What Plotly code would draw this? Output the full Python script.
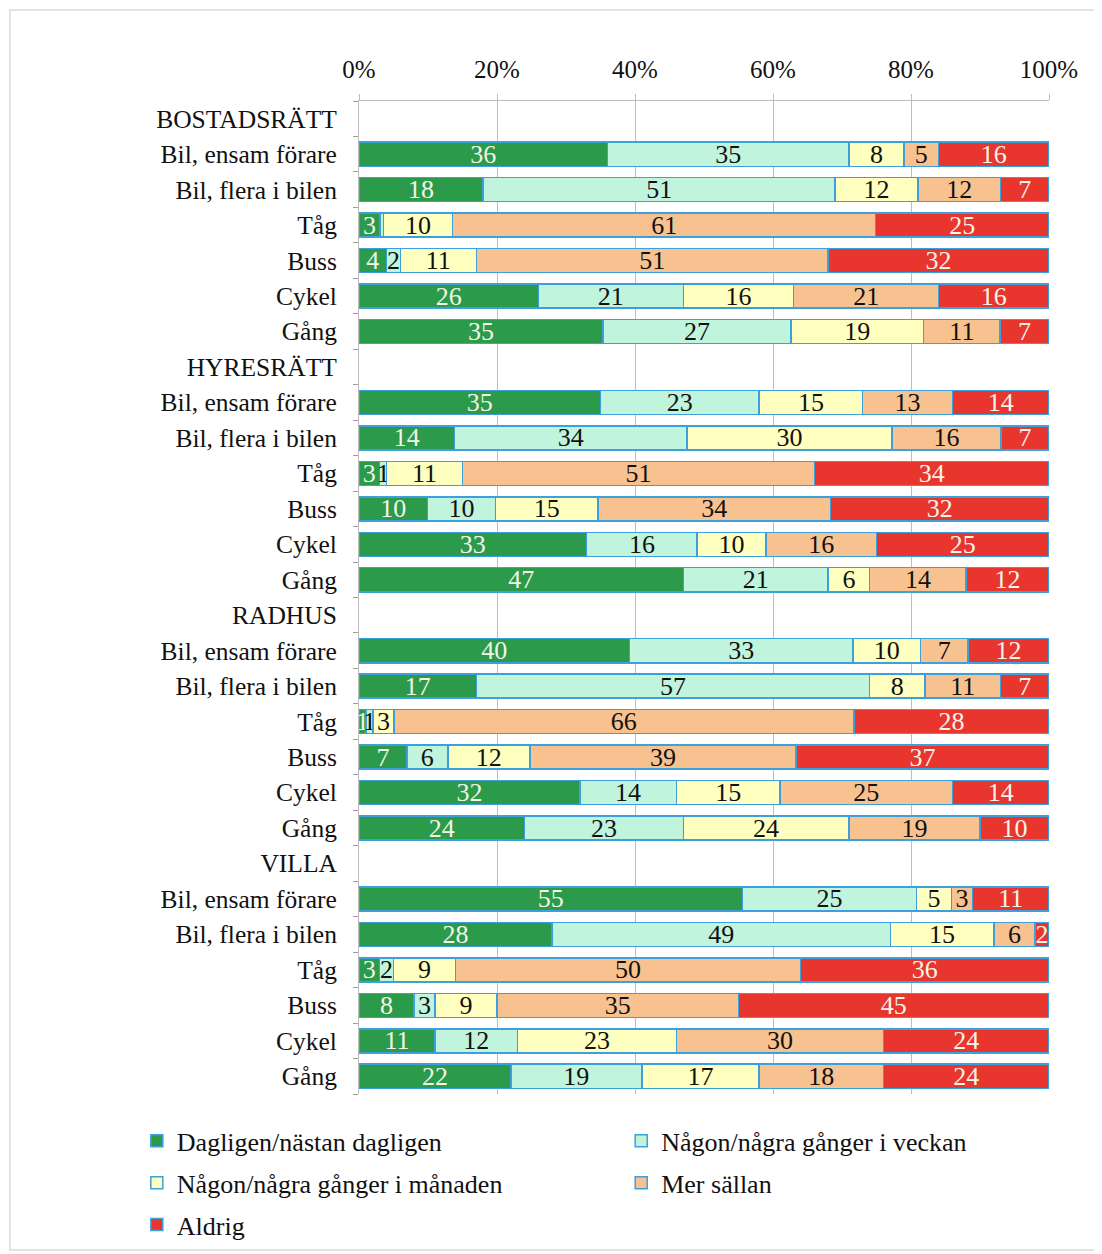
import plotly.graph_objects as go

groups = ["BOSTADSRÄTT", "HYRESRÄTT", "RADHUS", "VILLA"]
modes = ["Bil, ensam förare", "Bil, flera i bilen", "Tåg", "Buss", "Cykel", "Gång"]

series_names = ["Dagligen/nästan dagligen", "Någon/några gånger i veckan",
                "Någon/några gånger i månaden", "Mer sällan", "Aldrig"]

daily   = [36, 18, 3, 4, 26, 35,   35, 14, 3, 10, 33, 47,   40, 17, 1, 7, 32, 24,   55, 28, 3, 8, 11, 22]
weekly  = [35, 51, 0.5, 2, 21, 27, 23, 34, 1, 10, 16, 21,   33, 57, 1, 6, 14, 23,   25, 49, 2, 3, 12, 19]
monthly = [8, 12, 10, 11, 16, 19,  15, 30, 11, 15, 10, 6,   10, 8, 3, 12, 15, 24,   5, 15, 9, 9, 23, 17]
rarely  = [5, 12, 61, 51, 21, 11,  13, 16, 51, 34, 16, 14,  7, 11, 66, 39, 25, 19,  3, 6, 50, 35, 30, 18]
never   = [16, 7, 25, 32, 16, 7,   14, 7, 34, 32, 25, 12,   12, 7, 28, 37, 14, 10,  11, 2, 36, 45, 24, 24]

colors = ["#2B9A4A", "#C0F4DC", "#FFFFC0", "#F7C290", "#E8352E"]
text_colors = ["#F4F4E8", "#111111", "#111111", "#111111", "#F4F4E8"]
x_ticks = [0, 20, 40, 60, 80, 100]
x_ticktext = ["0%", "20%", "40%", "60%", "80%", "100%"]

FONT = "Liberation Serif, Times New Roman, serif"

# build row labels (group headers + modes) and bar positions
row_labels = []
bar_pos = []
for g in groups:
    row_labels.append(g)
    for m in modes:
        bar_pos.append(len(row_labels))
        row_labels.append(m)

fig = go.Figure()
all_series = [daily, weekly, monthly, rarely, never]
legend_ids = ["legend", "legend2", "legend", "legend2", "legend"]
for i, (name, vals, col, tcol, lg) in enumerate(zip(series_names, all_series, colors, text_colors, legend_ids)):
    fig.add_trace(go.Bar(
        name=name, x=vals, y=bar_pos, orientation="h",
        marker=dict(color=col, line=dict(color="#3D9FDC", width=1.5)),
        text=[(str(v) if v >= 1 else "") for v in vals],
        textposition="inside", insidetextanchor="middle", constraintext="none",
        textangle=0,
        textfont=dict(family=FONT, size=26, color=tcol),
        width=0.68, legend=lg, legendgroup=f"g{i}", hoverinfo="skip",
    ))

leg_common = dict(orientation="v", yanchor="top", xanchor="left", traceorder="grouped",
                  tracegroupgap=5, font=dict(family=FONT, size=26),
                  bgcolor="rgba(0,0,0,0)")

fig.update_layout(
    barmode="stack", barnorm="percent",
    width=1094, height=1246,
    margin=dict(l=351, r=53, t=93, b=160, autoexpand=False),
    paper_bgcolor="white", plot_bgcolor="white",
    font=dict(family=FONT, size=25, color="#111111"),
    xaxis=dict(side="top", range=[0, 100], tickvals=x_ticks, ticktext=x_ticktext,
               showgrid=True, gridcolor="#BDBDBD", gridwidth=1,
               showline=True, linecolor="#BDBDBD", ticks="outside", ticklen=6,
               tickcolor="#BDBDBD", zeroline=False, ticklabelstandoff=6,
               automargin=False, tickfont=dict(family=FONT, size=25)),
    yaxis=dict(range=[len(row_labels) - 0.5, -0.5],
               tickvals=list(range(len(row_labels))), ticktext=row_labels,
               ticks="", showgrid=False, zeroline=False, automargin=False,
               showline=True, linecolor="#BDBDBD", ticklabelstandoff=16,
               tickfont=dict(family=FONT, size=25.5),
               minor=dict(tick0=0.5, dtick=1, ticks="outside", ticklen=5,
                          tickcolor="#9E9E9E", showgrid=False)),
    legend=dict(x=-0.322, y=-0.0236, **leg_common),
    legend2=dict(x=0.3800, y=-0.0236, **leg_common),
    shapes=[dict(type="rect", xref="paper", yref="paper",
                 x0=-0.506, x1=1.071, y0=-0.157, y1=1.0916,
                 line=dict(color="#DADADA", width=1.5), fillcolor="rgba(0,0,0,0)",
                 layer="below")],
)

fig.write_html("out.html")
